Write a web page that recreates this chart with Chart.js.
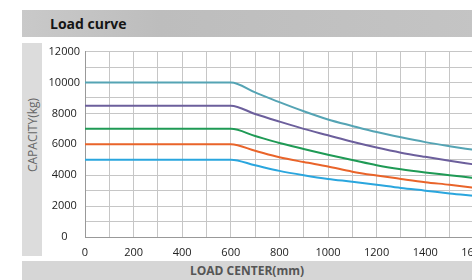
<!DOCTYPE html>
<html>
<head>
<meta charset="utf-8">
<script src="https://cdn.jsdelivr.net/npm/chart.js@4/dist/chart.umd.min.js"></script>
<style>
    html, body { margin: 0; padding: 0; background: #fff; overflow: hidden; }
    #page { position: relative; width: 472px; height: 280px; overflow: hidden; font-family: "Open Sans", "Noto Sans", sans-serif; }
    #header { position: absolute; left: 22px; top: 10px; width: 460px; height: 27px;
        background: linear-gradient(to right, #c9c9c9, #bdbdbd 30%, #c4c4c4); }
    #header span { position: absolute; left: 28px; top: 4px; font-size: 14px; font-weight: bold; color: #151515; }
    #leftBand { position: absolute; left: 22px; top: 43px; width: 20px; height: 213px; background: #dcdcdc; }
    #yTitle { position: absolute; left: 32px; top: 135px; transform: translate(-50%, -50%) rotate(-90deg);
        white-space: nowrap; font-size: 12px; color: #666; }
    #footer { position: absolute; left: 22px; top: 261px; width: 460px; height: 19px; background: #d6d6d6; }
    #footer span { position: absolute; left: 0; width: 450px; top: 1px; text-align: center; font-size: 12px; font-weight: bold; color: #555; }
    #wrap { position: absolute; left: 22px; top: 40px; width: 522px; height: 222px; }
</style>
</head>
<body>
<div id="page">
    <div id="header"><span>Load curve</span></div>
    <div id="leftBand"></div>
    <div id="yTitle">CAPACITY(kg)</div>
    <div id="footer"><span>LOAD CENTER(mm)</span></div>
    <div id="wrap"><canvas id="chart"></canvas></div>
</div>
<script>
const loadCenters = [0, 600, 700, 800, 900, 1000, 1100, 1200, 1300, 1400, 1500, 1600];
const cap10000 = [10000, 10000, 9360, 8730, 8140, 7610, 7190, 6790, 6450, 6140, 5880, 5640];
const cap8500 = [8500, 8500, 7960, 7470, 7000, 6580, 6160, 5790, 5460, 5190, 4940, 4700];
const cap7000 = [7000, 7000, 6540, 6080, 5700, 5330, 4990, 4650, 4390, 4180, 4000, 3820];
const cap6000 = [6000, 6000, 5580, 5160, 4850, 4560, 4230, 3980, 3760, 3550, 3380, 3190];
const cap5000 = [5000, 5000, 4640, 4280, 4000, 3760, 3580, 3380, 3170, 3000, 2820, 2670];
const yTicks = [0, 2000, 4000, 6000, 8000, 10000, 12000];
const xTicks = [0, 200, 400, 600, 800, 1000, 1200, 1400, 1600, 1800];

const series = [
    { data: cap10000, color: '#55a4b4' },
    { data: cap8500, color: '#6c5f9c' },
    { data: cap7000, color: '#1f9a55' },
    { data: cap6000, color: '#e9642a' },
    { data: cap5000, color: '#2aa6de' },
];

function points(values) {
    return values.map((v, i) => ({ x: loadCenters[i], y: v }));
}

const tickFont = { family: '"Open Sans", "Noto Sans", sans-serif', size: 11 };

new Chart(document.getElementById('chart'), {
    type: 'line',
    data: {
        datasets: series.map(s => ({
            data: points(s.data),
            borderColor: s.color,
            borderWidth: 2,
            pointRadius: 0,
            cubicInterpolationMode: 'monotone',
            fill: false,
        })),
    },
    options: {
        responsive: true,
        maintainAspectRatio: false,
        animation: false,
        layout: { padding: { top: 4, right: 0, bottom: 0, left: 0 } },
        plugins: { legend: { display: false }, tooltip: { enabled: false } },
        scales: {
            x: {
                type: 'linear',
                min: 0,
                max: 1800,
                ticks: {
                    stepSize: 100,
                    autoSkip: false,
                    maxRotation: 0,
                    color: '#222',
                    font: tickFont,
                    padding: 9,
                    callback: v => xTicks.includes(v) ? String(v) : '',
                },
                grid: { color: '#c6c6c6', drawTicks: false },
                border: { color: '#999' },
                afterFit: scale => { scale.height = 25; },
            },
            y: {
                min: 0,
                max: 12000,
                ticks: {
                    stepSize: 1000,
                    autoSkip: false,
                    color: '#222',
                    font: tickFont,
                    padding: 5,
                    crossAlign: 'center',
                    callback: v => yTicks.includes(v) ? String(v) : '',
                },
                grid: { color: '#c6c6c6', drawTicks: false },
                border: { color: '#999' },
                afterFit: scale => { scale.width = 63; },
            },
        },
    },
});
</script>
</body>
</html>
